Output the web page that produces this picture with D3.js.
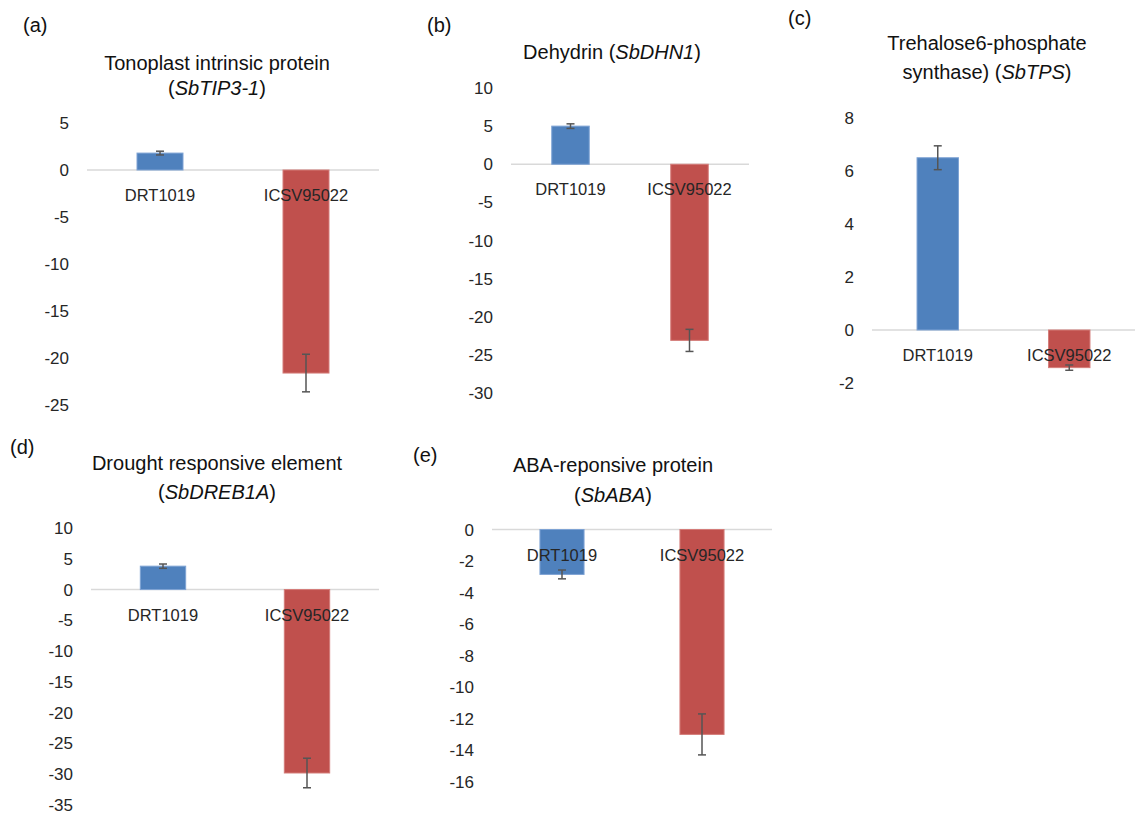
<!DOCTYPE html>
<html>
<head>
<meta charset="utf-8">
<script src="https://cdn.jsdelivr.net/npm/d3@7"></script>
<style>
  html, body { margin: 0; padding: 0; background: #fff; }
  svg { display: block; font-family: "Liberation Sans", Arial, sans-serif; }
</style>
</head>
<body>
<svg id="chart" width="1135" height="816"></svg>
<script>
// ---------- data ----------
const categories = ["DRT1019", "ICSV95022"];
const panelLabels = ["(a)", "(b)", "(c)", "(d)", "(e)"];
const titleLines = [
  [[["Tonoplast intrinsic protein", false]], [["(", false], ["SbTIP3-1", true], [")", false]]],
  [[["Dehydrin (", false], ["SbDHN1", true], [")", false]]],
  [[["Trehalose6-phosphate", false]], [["synthase) (", false], ["SbTPS", true], [")", false]]],
  [[["Drought responsive element", false]], [["(", false], ["SbDREB1A", true], [")", false]]],
  [[["ABA-reponsive protein", false]], [["(", false], ["SbABA", true], [")", false]]]
];
const drtValues  = [1.8, 5.0, 6.5, 3.8, -2.85];
const icsvValues = [-21.6, -23.1, -1.42, -29.8, -13.0];
const drtErrors  = [0.2, 0.3, 0.45, 0.35, 0.28];
const icsvErrors = [2.0, 1.45, 0.1, 2.4, 1.3];
const yDomains = [[-25, 5], [-30, 10], [-2, 8], [-35, 10], [-16, 0]];
const yTickSteps = [5, 5, 2, 5, 2];

// ---------- layout (pixels) ----------
const layout = [
  { x0: 87,  x1: 379,  yTop: 123, yBot: 405, lab: [23, 32],  title: [217, 70, 25] },
  { x0: 511, x1: 749,  yTop: 88,  yBot: 393, lab: [427, 32], title: [612, 59, 25] },
  { x0: 872, x1: 1135, yTop: 118, yBot: 383, lab: [788, 25], title: [987, 50, 29] },
  { x0: 91,  x1: 379,  yTop: 528, yBot: 805, lab: [10, 454], title: [217, 470, 29] },
  { x0: 492, x1: 772,  yTop: 529.5, yBot: 781.7, lab: [413, 462], title: [613, 472, 30] }
];
const colors = { DRT1019: "#4f81bd", ICSV95022: "#c0504d" };
const strokes = { DRT1019: "#7ea3d4", ICSV95022: "#d47c79" };

const svg = d3.select("#chart");

panelLabels.forEach((pl, i) => {
  const L = layout[i];
  const g = svg.append("g");
  const [lo, hi] = yDomains[i];
  const y = d3.scaleLinear().domain([lo, hi]).range([L.yBot, L.yTop]);
  const x = d3.scaleBand().domain(categories).range([L.x0, L.x1]).padding(0);
  const bw = x.bandwidth() * 0.315;

  // panel label
  g.append("text").attr("x", L.lab[0]).attr("y", L.lab[1])
    .attr("font-size", 20).attr("fill", "#111").text(pl);

  // title
  const tl = titleLines[i];
  tl.forEach((line, li) => {
    const t = g.append("text")
      .attr("x", L.title[0]).attr("y", L.title[1] + li * L.title[2])
      .attr("text-anchor", "middle").attr("font-size", 20).attr("fill", "#111");
    line.forEach(seg => {
      t.append("tspan").attr("font-style", seg[1] ? "italic" : "normal").text(seg[0]);
    });
  });

  // y tick labels
  const ticks = d3.range(lo, hi + 0.001, yTickSteps[i]);
  g.selectAll(".yt").data(ticks).enter().append("text")
    .attr("x", L.x0 - 18).attr("y", d => y(d) + 6)
    .attr("text-anchor", "end").attr("font-size", 17).attr("fill", "#262626")
    .text(d => d3.format("")(d).replace("−", "-"));

  // zero line
  g.append("line").attr("x1", L.x0).attr("x2", L.x1)
    .attr("y1", y(0)).attr("y2", y(0))
    .attr("stroke", "#d9d9d9").attr("stroke-width", 1.5);

  const rows = [
    { c: categories[0], v: drtValues[i], e: drtErrors[i] },
    { c: categories[1], v: icsvValues[i], e: icsvErrors[i] }
  ];

  // bars
  g.selectAll(".bar").data(rows).enter().append("rect")
    .attr("x", d => x(d.c) + x.bandwidth() / 2 - bw / 2)
    .attr("width", bw)
    .attr("y", d => Math.min(y(d.v), y(0)))
    .attr("height", d => Math.abs(y(d.v) - y(0)))
    .attr("fill", d => colors[d.c])
    .attr("stroke", d => strokes[d.c]).attr("stroke-width", 1);

  // error bars
  rows.forEach(d => {
    const cx = x(d.c) + x.bandwidth() / 2;
    const eg = g.append("g").attr("stroke", "#555").attr("stroke-width", 1.5);
    eg.append("line").attr("x1", cx).attr("x2", cx)
      .attr("y1", y(d.v + d.e)).attr("y2", y(d.v - d.e));
    [d.v + d.e, d.v - d.e].forEach(ev => {
      eg.append("line").attr("x1", cx - 4).attr("x2", cx + 4)
        .attr("y1", y(ev)).attr("y2", y(ev));
    });
  });

  // category labels (on top of bars)
  g.selectAll(".cat").data(categories).enter().append("text")
    .attr("x", d => x(d) + x.bandwidth() / 2)
    .attr("y", y(0) + 31)
    .attr("text-anchor", "middle").attr("font-size", 16.5).attr("fill", "#262626")
    .text(d => d);
});
</script>
</body>
</html>
